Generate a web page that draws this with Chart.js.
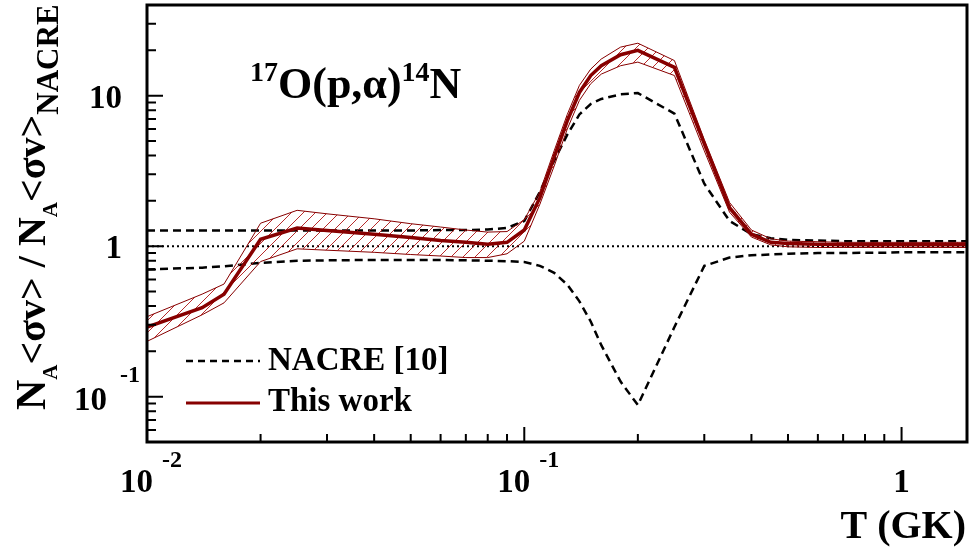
<!DOCTYPE html>
<html><head><meta charset="utf-8">
<script src="https://cdn.jsdelivr.net/npm/chart.js@4.4.0/dist/chart.umd.min.js"></script>
<style>html,body{margin:0;padding:0;background:#fff;} canvas{display:block;}</style>
</head><body>
<canvas id="c" width="969" height="550" style="width:969px;height:550px"></canvas>
<script>
// ---- data ----
const T = [0.01, 0.014, 0.016, 0.02, 0.025, 0.03, 0.04, 0.05, 0.06, 0.07, 0.08, 0.09,
           0.1, 0.11, 0.12, 0.13, 0.14, 0.15, 0.16, 0.18, 0.2, 0.25,
           0.3, 0.35, 0.4, 0.45, 0.5, 0.6, 0.7, 0.8, 0.9, 1.0, 1.25, 1.5];
const thisWork = [0.29, 0.39, 0.48, 1.11, 1.32, 1.27, 1.20, 1.14, 1.09, 1.06, 1.03, 1.06,
                  1.28, 2.1, 3.9, 6.8, 10.5, 13.6, 15.8, 18.7, 20.0, 15.4,
                  4.8, 1.8, 1.2, 1.06, 1.04, 1.03, 1.02, 1.02, 1.02, 1.02, 1.02, 1.02];
const thisWorkHigh = [0.34, 0.48, 0.56, 1.42, 1.73, 1.64, 1.52, 1.41, 1.34, 1.28, 1.24, 1.25,
                      1.5, 2.3, 4.3, 7.5, 11.7, 15.0, 17.5, 21.0, 22.3, 17.1,
                      5.1, 1.95, 1.28, 1.12, 1.08, 1.07, 1.06, 1.06, 1.06, 1.06, 1.06, 1.06];
const thisWorkLow = [0.233, 0.35, 0.42, 0.79, 0.96, 0.94, 0.91, 0.88, 0.86, 0.84, 0.84, 0.89,
                     1.08, 1.9, 3.4, 6.0, 9.3, 12.0, 13.9, 15.8, 16.7, 13.6,
                     4.3, 1.68, 1.15, 1.02, 0.99, 0.98, 0.98, 0.98, 0.98, 0.98, 0.98, 0.98];
const nacreHigh = [1.27, 1.27, 1.27, 1.27, 1.27, 1.27, 1.27, 1.27, 1.28, 1.28, 1.29, 1.32,
                   1.47, 2.3, 3.7, 5.5, 7.5, 8.8, 9.5, 10.2, 10.4, 7.6,
                   2.6, 1.47, 1.2, 1.13, 1.1, 1.09, 1.08, 1.08, 1.08, 1.08, 1.08, 1.08];
const nacreLow = [0.70, 0.72, 0.735, 0.775, 0.80, 0.805, 0.81, 0.81, 0.81, 0.805, 0.80, 0.795,
                  0.785, 0.74, 0.665, 0.555, 0.43, 0.316, 0.22, 0.126, 0.088, 0.29,
                  0.74, 0.84, 0.87, 0.88, 0.89, 0.90, 0.90, 0.905, 0.905, 0.91, 0.91, 0.91];
const unityT = [0.01, 1.5];
const unityV = [1, 1];

const xMajor = [0.01, 0.1, 1];
const xLabelBase = ['10', '10', '1'];
const xLabelExp = ['-2', '-1', ''];
const xMinor = [0.02,0.03,0.04,0.05,0.06,0.07,0.08,0.09,0.2,0.3,0.4,0.5,0.6,0.7,0.8,0.9];
const yMajor = [0.1, 1, 10];
const yLabelBase = ['10', '1', '10'];
const yLabelExp = ['-1', '', ''];
const yMinor = [0.05,0.06,0.07,0.08,0.09,0.2,0.3,0.4,0.5,0.6,0.7,0.8,0.9,2,3,4,5,6,7,8,9,20,30];

const legendLabels = ['NACRE [10]', 'This work'];
const xTitle = 'T (GK)';

// ---- styling ----
const FONT = '"Liberation Serif", "Times New Roman", serif';
const RED = 'rgb(135,0,0)';
const HATCH_RED = 'rgb(175,20,20)';

function pts(xs, ys) { return xs.map((x, i) => ({x: x, y: ys[i]})); }

function makeHatch() {
  const s = 12;
  const c = document.createElement('canvas');
  c.width = s; c.height = s;
  const g = c.getContext('2d');
  g.strokeStyle = HATCH_RED; g.lineWidth = 0.9;
  g.beginPath();
  g.moveTo(0, s); g.lineTo(s, 0);
  g.moveTo(-s, s); g.lineTo(s, -s);
  g.moveTo(0, 2*s); g.lineTo(2*s, 0);
  g.stroke();
  return g.createPattern(c, 'repeat');
}

function drawRich(ctx, parts, x, y) {
  let cx = x;
  for (const p of parts) {
    ctx.font = 'bold ' + p.size + 'px ' + FONT;
    ctx.fillText(p.t, cx, y + (p.dy || 0));
    cx += ctx.measureText(p.t).width + (p.gap || 0);
  }
  return cx - x;
}

const decor = {
  id: 'decor',
  beforeDraw(chart) {
    const ctx = chart.ctx;
    ctx.save();
    ctx.fillStyle = '#fff';
    ctx.fillRect(0, 0, chart.width, chart.height);
    ctx.restore();
  },
  afterDraw(chart) {
    const ctx = chart.ctx;
    const a = chart.chartArea;
    const xs = chart.scales.x, ys = chart.scales.y;
    ctx.save();
    ctx.strokeStyle = '#000';
    ctx.fillStyle = '#000';
    // ticks
    ctx.lineWidth = 2;
    ctx.beginPath();
    xMajor.forEach(v => { const p = xs.getPixelForValue(v); ctx.moveTo(p, a.bottom); ctx.lineTo(p, a.bottom - 15); });
    xMinor.forEach(v => { const p = xs.getPixelForValue(v); ctx.moveTo(p, a.bottom); ctx.lineTo(p, a.bottom - 8); });
    yMajor.forEach(v => { const p = ys.getPixelForValue(v); ctx.moveTo(a.left, p); ctx.lineTo(a.left + 16, p); });
    yMinor.forEach(v => { const p = ys.getPixelForValue(v); ctx.moveTo(a.left, p); ctx.lineTo(a.left + 9, p); });
    ctx.stroke();
    // frame
    ctx.lineWidth = 3;
    ctx.strokeRect(a.left, a.top, a.right - a.left - 1, a.bottom - a.top);

    // tick labels
    ctx.textBaseline = 'alphabetic';
    xMajor.forEach((v, i) => {
      const p = xs.getPixelForValue(v);
      ctx.font = 'bold 33px ' + FONT;
      if (xLabelExp[i]) {
        ctx.textAlign = 'right';
        ctx.fillText(xLabelBase[i], p + 6, a.bottom + 50);
        ctx.textAlign = 'left';
        ctx.font = 'bold 24px ' + FONT;
        ctx.fillText(xLabelExp[i], p + 15, a.bottom + 25);
      } else {
        ctx.textAlign = 'center';
        ctx.fillText(xLabelBase[i], p, a.bottom + 50);
      }
    });
    yMajor.forEach((v, i) => {
      const p = ys.getPixelForValue(v);
      ctx.font = 'bold 33px ' + FONT;
      if (yLabelExp[i]) {
        ctx.textAlign = 'right';
        ctx.fillText(yLabelBase[i], a.left - 40, p + 13);
        ctx.textAlign = 'left';
        ctx.font = 'bold 24px ' + FONT;
        ctx.fillText(yLabelExp[i], a.left - 27, p - 15);
      } else {
        ctx.textAlign = 'right';
        ctx.fillText(yLabelBase[i], a.left - 25, p + 12);
      }
    });

    // x title
    ctx.textAlign = 'right';
    ctx.font = 'bold 40px ' + FONT;
    ctx.fillText(xTitle, 966, 538);

    // y title (rotated)
    ctx.textAlign = 'left';
    ctx.save();
    ctx.translate(45, 410);
    ctx.rotate(-Math.PI / 2);
    drawRich(ctx, [
      {t: 'N', size: 42}, {t: 'A', size: 21, dy: 12},
      {t: '<\u03c3v> / N', size: 40}, {t: 'A', size: 21, dy: 12},
      {t: '<\u03c3v>', size: 40}, {t: 'NACRE', size: 31, dy: 13}
    ], 0, 0);
    ctx.restore();

    // plot title
    drawRich(ctx, [
      {t: '17', size: 28, dy: -17}, {t: 'O(p,\u03b1)', size: 44},
      {t: '14', size: 28, dy: -17}, {t: 'N', size: 44}
    ], 250, 98);

    // legend
    ctx.lineWidth = 2.5;
    ctx.setLineDash([7, 5]);
    ctx.beginPath(); ctx.moveTo(186, 361); ctx.lineTo(260, 361); ctx.stroke();
    ctx.setLineDash([]);
    ctx.strokeStyle = RED; ctx.lineWidth = 3;
    ctx.beginPath(); ctx.moveTo(186, 403); ctx.lineTo(260, 403); ctx.stroke();
    ctx.fillStyle = '#000';
    ctx.font = 'bold 33px ' + FONT;
    ctx.fillText(legendLabels[0], 268, 370);
    ctx.fillText(legendLabels[1], 268, 411);
    ctx.restore();
  }
};

const hatch = makeHatch();

new Chart(document.getElementById('c'), {
  type: 'line',
  data: {
    datasets: [
      {data: pts(T, thisWork), borderColor: RED, borderWidth: 3.5, fill: false},
      {data: pts(T, thisWorkHigh), borderColor: RED, borderWidth: 1, fill: '+1', backgroundColor: hatch},
      {data: pts(T, thisWorkLow), borderColor: RED, borderWidth: 1, fill: false},
      {data: pts(T, nacreHigh), borderColor: '#000', borderWidth: 2.5, borderDash: [8, 5], fill: false},
      {data: pts(T, nacreLow), borderColor: '#000', borderWidth: 2.5, borderDash: [8, 5], fill: false},
      {data: pts(unityT, unityV), borderColor: '#000', borderWidth: 2, borderDash: [2, 3], fill: false}
    ]
  },
  options: {
    responsive: false,
    animation: false,
    devicePixelRatio: 1,
    layout: {padding: {left: 147, top: 5, right: 1, bottom: 108}},
    plugins: {legend: {display: false}, tooltip: {enabled: false}},
    elements: {point: {radius: 0}, line: {tension: 0}},
    scales: {
      x: {type: 'logarithmic', min: 0.01, max: 1.5, display: false},
      y: {type: 'logarithmic', min: 0.05, max: 40, display: false}
    }
  },
  plugins: [decor]
});
</script>
</body></html>
